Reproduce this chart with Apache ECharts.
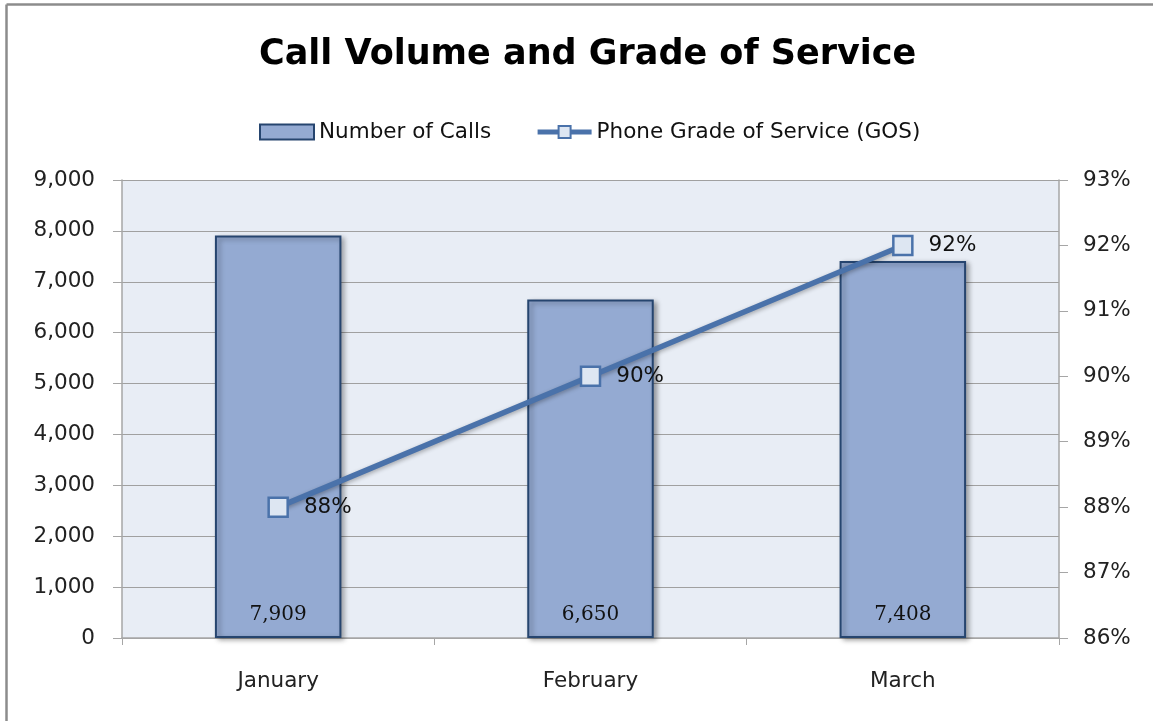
<!DOCTYPE html>
<html>
<head>
<meta charset="utf-8">
<script src="https://cdn.jsdelivr.net/npm/echarts@6/dist/echarts.min.js"></script>
<style>
html,body{margin:0;padding:0;background:#fff;}
#c{width:1153px;height:721px;}
</style>
</head>
<body>
<div id="c"></div>
<script>
const categories = ['January', 'February', 'March'];
const calls = [7909, 6650, 7408];
const gos = [88, 90, 92];
const leftTicks = [0, 1000, 2000, 3000, 4000, 5000, 6000, 7000, 8000, 9000];
const rightTicks = [86, 87, 88, 89, 90, 91, 92, 93];

const chart = echarts.init(document.getElementById('c'));
const fontSans = '"DejaVu Sans", "Open Sans", sans-serif';
const fs = 21.5;
chart.setOption({
  animation: false,
  backgroundColor: '#ffffff',
  title: {
    text: 'Call Volume and Grade of Service',
    left: 254,
    top: 32,
    textStyle: { fontFamily: '"DejaVu Sans", sans-serif', fontWeight: 'bold', fontSize: 35, color: '#000' }
  },
  legend: {
    top: 116,
    left: 254,
    itemGap: 44,
    itemWidth: 54,
    itemHeight: 15,
    textStyle: { fontFamily: fontSans, fontSize: fs, color: '#111' },
    data: [
      { name: 'Number of Calls', icon: 'rect' },
      { name: 'Phone Grade of Service (GOS)', lineStyle: { width: 5 } }
    ]
  },
  grid: {
    left: 122, right: 94, top: 180, bottom: 83,
    show: true, backgroundColor: '#e8edf5', borderWidth: 0
  },
  xAxis: {
    type: 'category',
    data: categories,
    axisLine: { lineStyle: { color: '#a6a6a6', width: 1.5 } },
    axisTick: { show: true, length: 7, lineStyle: { color: '#a6a6a6' } },
    axisLabel: { fontFamily: fontSans, fontSize: fs, color: '#222', margin: 32 }
  },
  yAxis: [
    {
      type: 'value', min: 0, max: 9000, interval: 1000,
      axisLine: { show: true, lineStyle: { color: '#a6a6a6', width: 1.5 } },
      axisTick: { show: true, length: 9, inside: false, lineStyle: { color: '#a6a6a6' } },
      splitLine: { show: true, lineStyle: { color: '#a0a0a0', width: 1.2 } },
      axisLabel: {
        fontFamily: fontSans, fontSize: fs, color: '#222', margin: 27,
        formatter: v => v.toLocaleString('en-US')
      }
    },
    {
      type: 'value', min: 86, max: 93, interval: 1, position: 'right',
      axisLine: { show: true, lineStyle: { color: '#a6a6a6', width: 1.5 } },
      axisTick: { show: true, length: 9, lineStyle: { color: '#a6a6a6' } },
      splitLine: { show: false },
      axisLabel: { fontFamily: fontSans, fontSize: fs, color: '#222', margin: 24, formatter: v => v + '%' }
    }
  ],
  series: [
    {
      name: 'Number of Calls',
      type: 'bar',
      data: calls,
      barWidth: '40.5%',
      itemStyle: {
        color: '#94aad2', borderColor: '#26456f', borderWidth: 2,
        shadowColor: 'rgba(0,0,0,0.35)', shadowBlur: 5, shadowOffsetX: 3, shadowOffsetY: 2
      },
      label: {
        show: true, position: 'insideBottom', distance: 13,
        fontFamily: '"DejaVu Serif", "Liberation Serif", serif', fontSize: 20, color: '#111',
        formatter: p => p.value.toLocaleString('en-US')
      }
    },
    {
      name: 'Phone Grade of Service (GOS)',
      type: 'line',
      yAxisIndex: 1,
      data: gos,
      symbol: 'rect',
      symbolSize: 19,
      lineStyle: { color: '#4a72aa', width: 5.5, shadowColor: 'rgba(0,0,0,0.3)', shadowBlur: 4, shadowOffsetY: 2 },
      itemStyle: { color: '#dde6f2', borderColor: '#4a72aa', borderWidth: 2.5 },
      label: {
        show: true, position: 'right', distance: 15,
        fontFamily: fontSans, fontSize: fs, color: '#111',
        formatter: p => p.value + '%'
      }
    }
  ],
  graphic: [
    { type: 'line', shape: { x1: 6.5, y1: 4.5, x2: 1153, y2: 4.5 }, style: { stroke: '#8c8c8c', lineWidth: 2.5 } },
    { type: 'line', shape: { x1: 6.5, y1: 4.5, x2: 6.5, y2: 721 }, style: { stroke: '#8c8c8c', lineWidth: 2.5 } }
  ]
});
</script>
</body>
</html>
